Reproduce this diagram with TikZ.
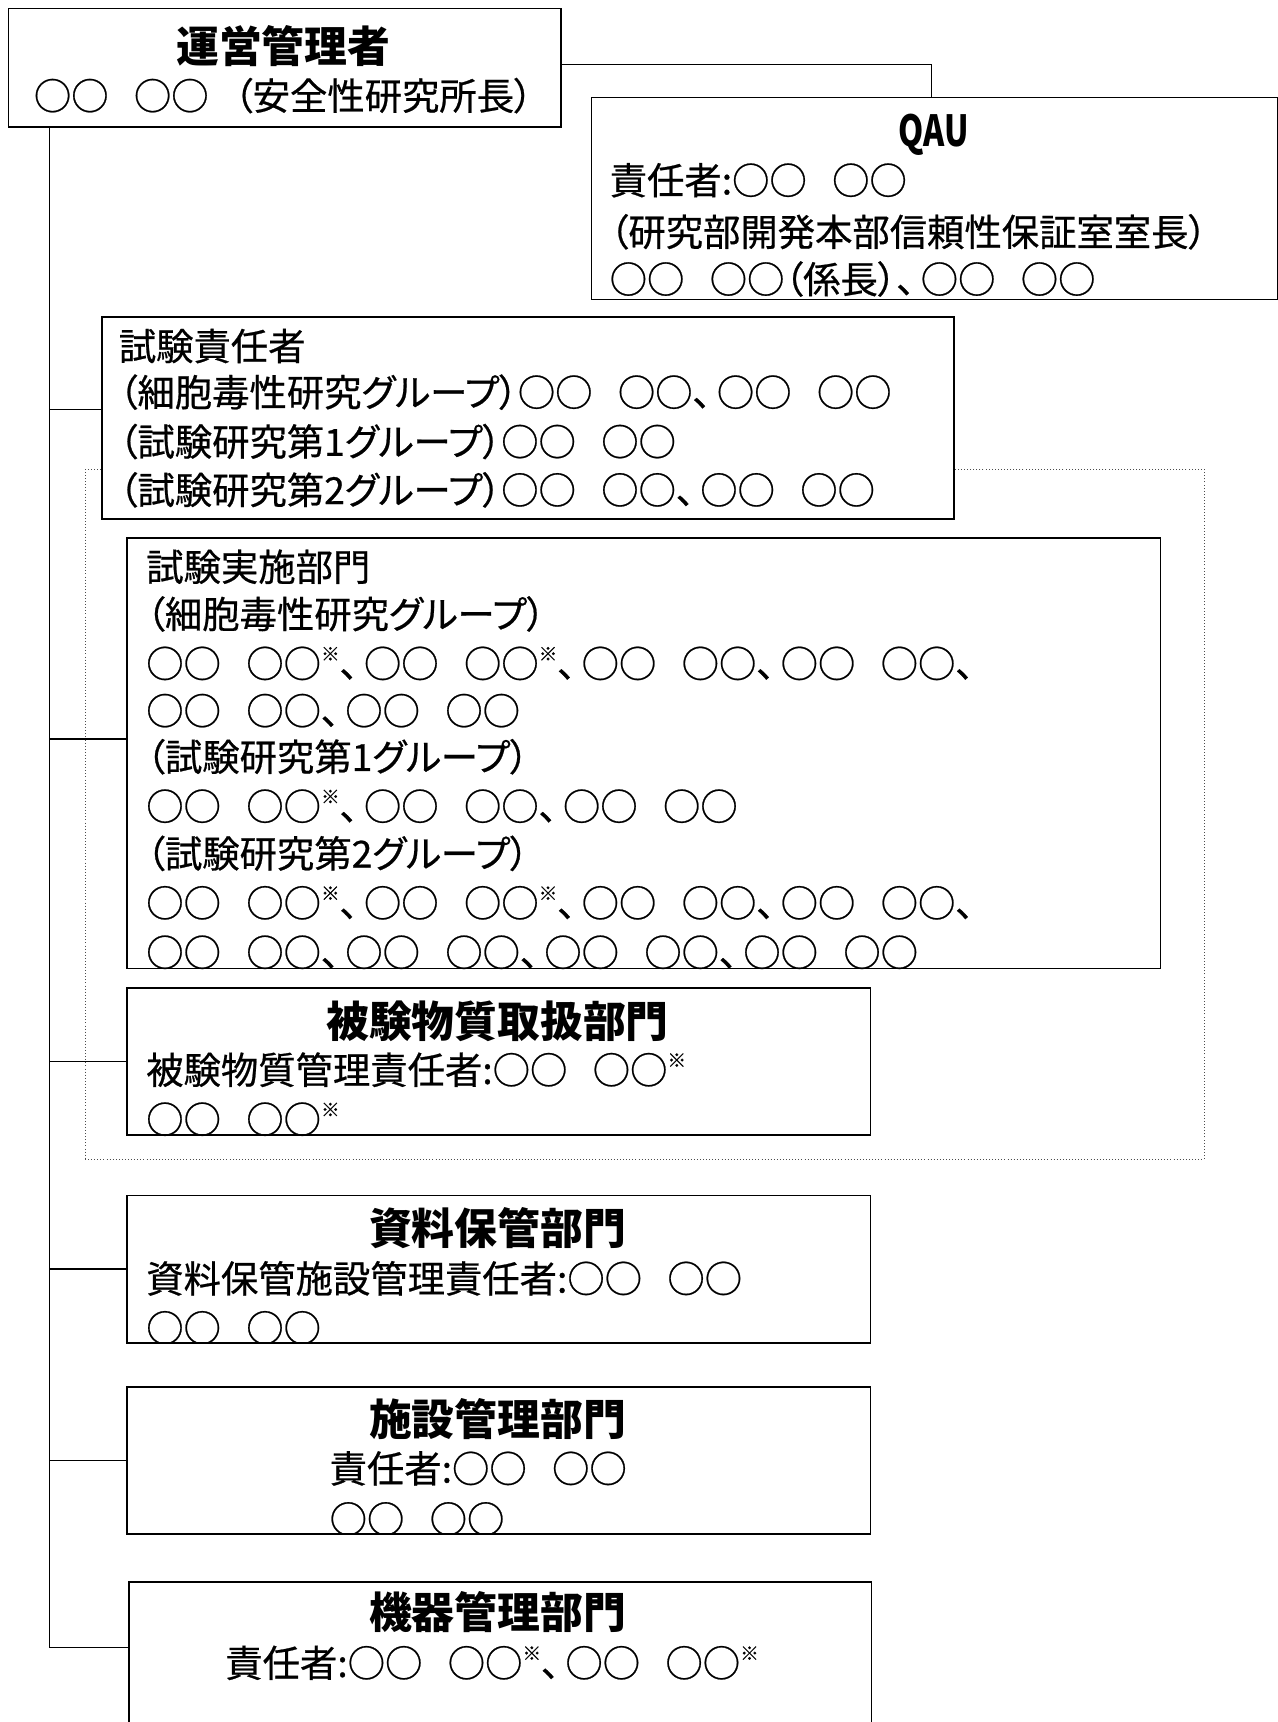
\documentclass[tikz,border=0pt]{standalone}
\usepackage{fontspec}
\setmainfont{Noto Sans CJK JP}[RawFeature=+palt, UprightFeatures={FakeBold=0.6}]
\newcommand{\kome}{\raisebox{0.45em}{\fontsize{17}{17}\selectfont ※}}
\newcommand{\aida}{\hspace{0.68em}}
\newcommand{\ten}{、\hspace{0.15em}}

\tikzset{
  unit/.style={draw, line width=1.4pt, fill=white, anchor=north west, inner sep=0pt},
  gbox/.style={draw=black!70, dotted, line width=0.8pt, anchor=north west, inner sep=0pt},
  head/.style={anchor=base, inner sep=0pt, font=\fontsize{39}{39}\selectfont\bfseries},
  txt/.style={anchor=base west, inner sep=0pt, font=\fontsize{34}{34}\selectfont},
  link/.style={line width=1.4pt},
}

\begin{document}
\begin{tikzpicture}[x=1pt, y=-1pt]
  \useasboundingbox (0,0) rectangle (1162.8,1568);

  % GLP area
  \node[gbox, minimum width=1019pt, minimum height=628pt] (glp) at (77,427) {};

  % boxes
  \node[unit, minimum width=503pt, minimum height=108pt] (unei)     at (7,7)     {};
  \node[unit, minimum width=625pt, minimum height=184pt] (qau)      at (538,88)  {};
  \node[unit, minimum width=776pt, minimum height=184pt] (sekinin)  at (92,288)  {};
  \node[unit, minimum width=941pt, minimum height=392pt] (jisshi)   at (115,489) {};
  \node[unit, minimum width=677pt, minimum height=134pt] (hiken)    at (115,899) {};
  \node[unit, minimum width=677pt, minimum height=134pt] (shiryo)   at (115,1088) {};
  \node[unit, minimum width=677pt, minimum height=134pt] (shisetsu) at (115,1262) {};
  \node[unit, minimum width=676pt, minimum height=300pt] (kiki)     at (117,1440) {};

  % texts
  \node[head] (unei-1) at (258,57)  {運営管理者};
  \node[txt, anchor=base] (unei-2) at (258,100) {○○\aida○○\aida（安全性研究所長）};

  \node[head] (qau-1) at (850,133) {\scalebox{0.75}[1]{QAU}};
  \node[txt] (qau-2) at (555,177) {責任者:○○\aida○○};
  \node[txt] (qau-3) at (555,224) {（研究部開発本部信頼性保証室室長）};
  \node[txt] (qau-4) at (555,267) {○○\aida○○（係長）\ten○○\aida○○};

  \node[txt] (sekinin-1) at (108,328) {試験責任者};
  \node[txt] (sekinin-2) at (108,370) {（細胞毒性研究グループ）○○\aida○○\ten○○\aida○○};
  \node[txt] (sekinin-3) at (108,415) {（試験研究第1グループ）○○\aida○○};
  \node[txt] (sekinin-4) at (108,459) {（試験研究第2グループ）○○\aida○○\ten○○\aida○○};

  \begin{scope}
    \clip (jisshi.north west) rectangle (jisshi.south east);
    \node[txt] (jisshi-1) at (133,529) {試験実施部門};
    \node[txt] (jisshi-2) at (133,572) {（細胞毒性研究グループ）};
    \node[txt] (jisshi-3) at (133,617) {○○\aida○○\kome\ten○○\aida○○\kome\ten○○\aida○○\ten○○\aida○○\ten};
    \node[txt] (jisshi-4) at (133,660) {○○\aida○○\ten○○\aida○○};
    \node[txt] (jisshi-5) at (133,702) {（試験研究第1グループ）};
    \node[txt] (jisshi-6) at (133,747) {○○\aida○○\kome\ten○○\aida○○\ten○○\aida○○};
    \node[txt] (jisshi-7) at (133,790) {（試験研究第2グループ）};
    \node[txt] (jisshi-8) at (133,835) {○○\aida○○\kome\ten○○\aida○○\kome\ten○○\aida○○\ten○○\aida○○\ten};
    \node[txt] (jisshi-9) at (133,880) {○○\aida○○\ten○○\aida○○\ten○○\aida○○\ten○○\aida○○};
  \end{scope}

  \begin{scope}
    \clip (hiken.north west) rectangle (hiken.south east);
    \node[head] (hiken-1) at (453,945) {被験物質取扱部門};
    \node[txt] (hiken-2) at (133,987) {被験物質管理責任者:○○\aida○○\kome};
    \node[txt] (hiken-3) at (133,1032) {○○\aida○○\kome};
  \end{scope}

  \begin{scope}
    \clip (shiryo.north west) rectangle (shiryo.south east);
    \node[head] (shiryo-1) at (453,1133) {資料保管部門};
    \node[txt] (shiryo-2) at (133,1177) {資料保管施設管理責任者:○○\aida○○};
    \node[txt] (shiryo-3) at (133,1222) {○○\aida○○};
  \end{scope}

  \begin{scope}
    \clip (shisetsu.north west) rectangle (shisetsu.south east);
    \node[head] (shisetsu-1) at (453,1307) {施設管理部門};
    \node[txt] (shisetsu-2) at (300,1350) {責任者:○○\aida○○};
    \node[txt] (shisetsu-3) at (300,1396) {○○\aida○○};
  \end{scope}

  \node[head] (kiki-1) at (453,1483) {機器管理部門};
  \node[txt] (kiki-2) at (205,1527) {責任者:○○\aida○○\kome\ten○○\aida○○\kome};

  % connectors
  \coordinate (trunk) at (45,0);
  \coordinate (unei-out) at ([yshift=3pt]unei.east);
  \coordinate (qau-in) at ([xshift=-3pt]qau.north);
  \coordinate (sekinin-in) at ([yshift=8pt]sekinin.west);
  \coordinate (jisshi-in) at ([yshift=13pt]jisshi.west);
  \coordinate (kiki-in) at (117,1500);
  \draw[link] (unei-out) -| (qau-in);
  \draw[link] (unei.south -| trunk) -- (trunk |- kiki-in) -- (kiki-in);
  \draw[link] (trunk |- sekinin-in) -- (sekinin-in);
  \draw[link] (trunk |- jisshi-in) -- (jisshi-in);
  \draw[link] (trunk |- hiken.west) -- (hiken.west);
  \draw[link] (trunk |- shiryo.west) -- (shiryo.west);
  \draw[link] (trunk |- shisetsu.west) -- (shisetsu.west);

\end{tikzpicture}
\end{document}
